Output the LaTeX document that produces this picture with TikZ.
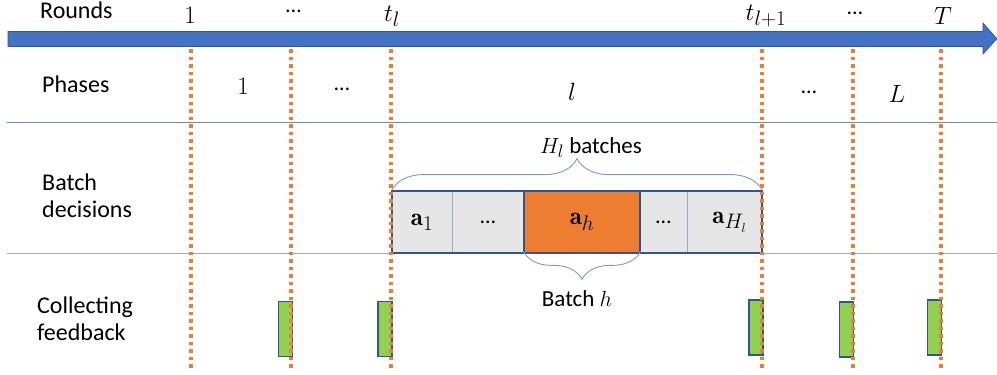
\RequirePackage{fix-cm}
\documentclass[tikz,border=0pt]{standalone}
\usepackage{fontspec}
\newfontfamily\calfont{Carlito}
\DeclareMathSizes{26}{25}{21}{13}
\DeclareMathSizes{23}{22}{18}{13}
\usetikzlibrary{decorations.pathreplacing}
\definecolor{arrowblue}{HTML}{4472C4}
\definecolor{darkblue}{HTML}{2F5597}
\definecolor{orng}{HTML}{ED7D31}
\definecolor{grayfill}{HTML}{E7E6E6}
\definecolor{grn}{HTML}{92D050}
\definecolor{lightblue}{HTML}{8FAADC}
\definecolor{sepblue}{HTML}{6F87B8}
\definecolor{sepgray}{HTML}{A5A9B5}
\begin{document}
\begin{tikzpicture}[x=1pt,y=-1pt,
  lbl/.style={font=\calfont\fontsize{24}{27}\selectfont, inner sep=0, anchor=base west},
  mth/.style={font=\fontsize{26}{30}\selectfont, inner sep=0, anchor=base},
  ell/.style={font=\calfont\fontsize{22}{24}\selectfont, inner sep=0, anchor=base, text height=4, text depth=0},
  cell/.style={draw=lightblue, line width=0.8, fill=grayfill, minimum height=62, inner sep=0,
               font=\fontsize{26}{30}\selectfont},
  bar/.style={draw=darkblue, line width=1.8, fill=grn, minimum width=14, minimum height=55, inner sep=0},
  brc/.style={draw=lightblue!80!darkblue, line width=0.9, decorate},
  vdot/.style={orng, line width=3.5, dash pattern=on 3.5 off 4},
  sep/.style={line width=1}]
\useasboundingbox (0,0) rectangle (997,375);
% separators
\draw[sep, sepblue] (7,122) -- (997,122);
\draw[sep, sepgray] (7,253) -- (997,253);
% timeline arrow
\filldraw[fill=arrowblue, draw=darkblue, line width=0.6]
  (8,31.5) -- (983,31.5) -- (983,23) -- (997,38.8) -- (983,54) -- (983,46.5) -- (8,46.5) -- cycle;
% row labels
\node[lbl] (rounds) at (40,18) {Rounds};
\node[lbl] (phases) at (42,92) {Phases};
\node[lbl] (batch1) at (42,190) {Batch};
\node[lbl] (batch2) at (42,217) {decisions};
\node[lbl] (coll1) at (37,313) {Collecting};
\node[lbl] (coll2) at (37,340) {feedback};
% round labels
\node[mth] (r1) at (190,23) {$1$};
\node[ell] (rd1) at (293.5,12) {…};
\node[mth] (rtl) at (392,21) {$t_l$};
\node[mth] (rtl1) at (766,20) {$t_{l+1}$};
\node[ell] (rd2) at (855,14) {…};
\node[mth] (rT) at (943,24) {$T$};
% phase labels
\node[mth] (p1) at (243,94) {$1$};
\node[ell] (pd1) at (342,90) {…};
\node[mth] (pl) at (572,100) {$l$};
\node[ell] (pd2) at (809,93) {…};
\node[mth] (pL) at (897,102) {$L$};
% batch cells
\node[cell, minimum width=60] (b1) at (422,222) {$\mathbf{a}_1$};
\node[cell, minimum width=72] (b2) at (488,222) {\calfont\fontsize{22}{24}\selectfont …};
\node[cell, minimum width=116, fill=orng] (b3) at (582,222) {$\mathbf{a}_h$};
\node[cell, minimum width=47] (b4) at (663.5,222) {\calfont\fontsize{22}{24}\selectfont …};
\node[cell, minimum width=75] (b5) at (724.5,222) {\hspace{10pt}$\mathbf{a}_{H_l}$};
\draw[darkblue, line width=2] (b1.north west) rectangle (b5.south east);
\draw[darkblue, line width=2] (b3.north west) rectangle (b3.south east);
% braces
\draw[brc, decoration={brace, amplitude=32}] (b1.north west) -- (b5.north east);
\draw[brc, decoration={brace, amplitude=28}] ([yshift=2]b3.south east) -- ([yshift=2]b3.south west);
\node[inner sep=0, anchor=base, font=\calfont\fontsize{23}{26}\selectfont] (hl) at (591,153) {$H_l$ batches};
\node[inner sep=0, anchor=base, font=\calfont\fontsize{23}{26}\selectfont] (bh) at (577,306) {Batch $h$};
% feedback bars
\node[bar] (f1) at (285.5,329) {};
\node[bar] (f2) at (385,329) {};
\node[bar] (f3) at (756,327.5) {};
\node[bar] (f4) at (846.5,329.5) {};
\node[bar] (f5) at (934.5,327.5) {};
% dotted round markers
\foreach \x [count=\i] in {191,291,391,762,853,941} {
  \coordinate (vt\i) at (\x,49);
  \coordinate (vb\i) at (\x,369);
  \draw[vdot] (vt\i) -- (vb\i);
}
\end{tikzpicture}
\end{document}
